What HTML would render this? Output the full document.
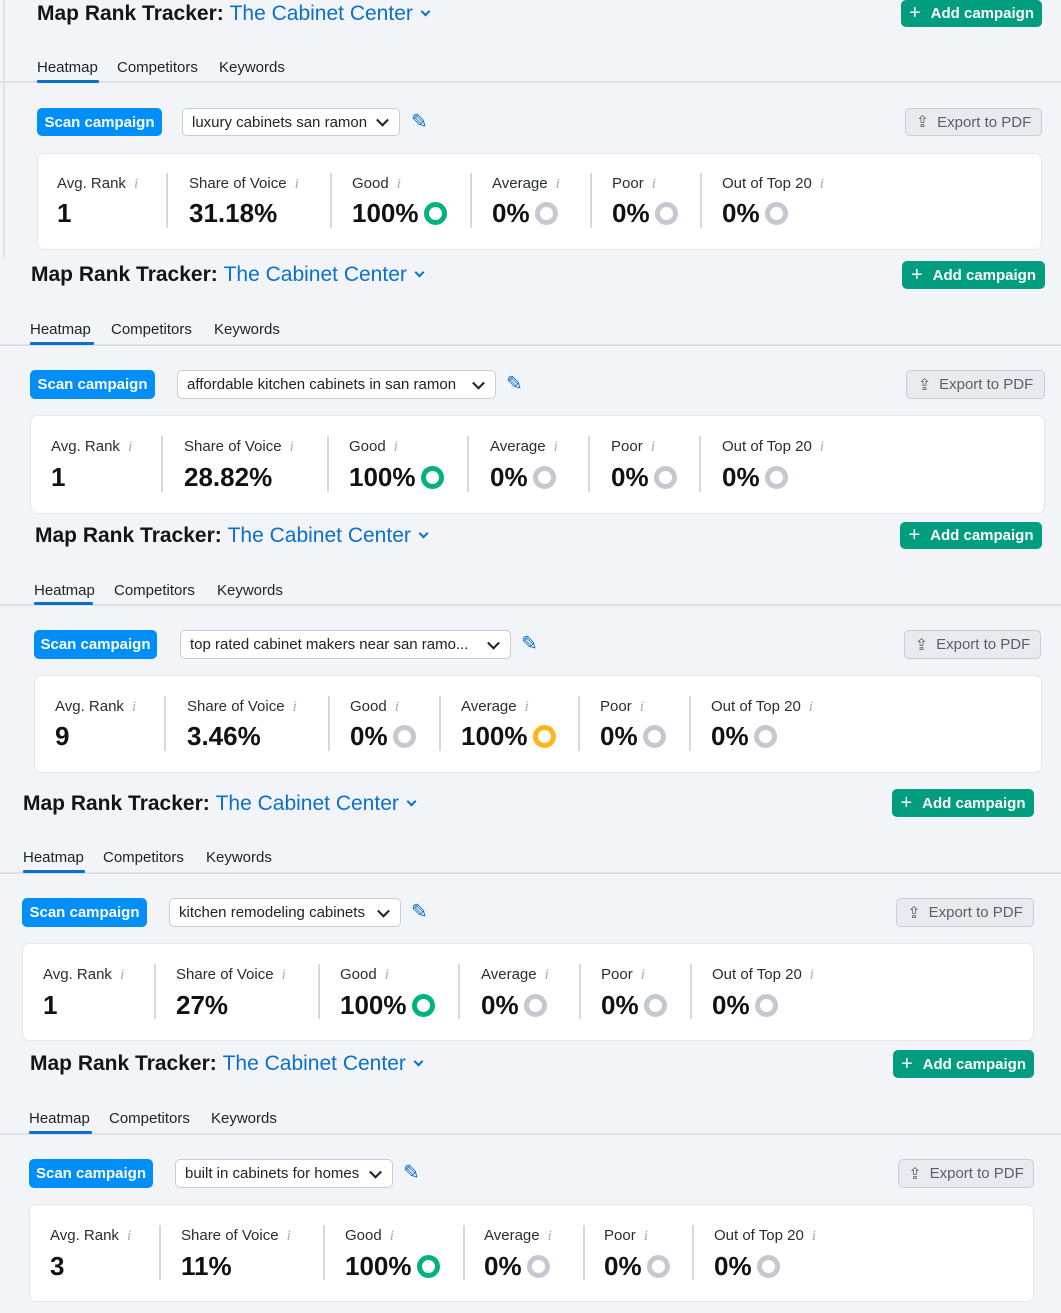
<!DOCTYPE html>
<html><head><meta charset="utf-8"><style>
*{margin:0;padding:0;box-sizing:border-box}
body{width:1061px;height:1313px;background:#f3f4f8;position:relative;overflow:hidden;font-family:"Liberation Sans",sans-serif;color:#171a22}
.a{position:absolute;white-space:nowrap}
.ti{font-size:21px;line-height:26px;font-weight:bold;color:#121418}
.ti span{color:#0a6fce;font-weight:normal}
.ti i{display:inline-block;width:7px;height:7px;border-right:2px solid #0a6fce;border-bottom:2px solid #0a6fce;transform:rotate(45deg);margin-left:9px;position:relative;top:-5px}
.add{background:#009d7f;color:#fff;border-radius:5px;font-size:15px;font-weight:bold;display:flex;align-items:center;justify-content:center}
.add b{font-weight:normal;font-size:20px;margin-right:10px}
.tab{font-size:15px;line-height:20px;color:#1e2128;margin-top:1px}
.ul{height:3px;background:#0a6fce;border-radius:1px}
.dv{left:0;width:1061px;height:2px;background:#dfe1e8}
.scan{background:#008ff8;color:#fff;border-radius:5px;font-size:15px;font-weight:bold;display:flex;align-items:center;justify-content:center}
.dd{background:#fff;border:1px solid #c9ccd6;border-radius:5px;font-size:15px;display:flex;align-items:center;padding-left:9px;color:#222}
.dd::after{content:"";position:absolute;right:12px;top:50%;width:7px;height:7px;border-right:2px solid #222;border-bottom:2px solid #222;transform:translateY(-70%) rotate(45deg)}
.pen{color:#0a6fce;font-size:20px;line-height:20px}
.ex{background:#e9eaee;border:1px solid #c9ccd6;border-radius:5px;font-size:15px;color:#5b5f6b;display:flex;align-items:center;justify-content:center}
.ex b{font-weight:normal;margin-right:8px;font-size:16px}
.card{background:#fff;border-radius:7px;border:1px solid #e4e6ec}
.lb{font-size:15px;line-height:20px;color:#2a2d35}
.lb i{color:#a9acb5;font-family:"Liberation Serif",serif;margin-left:8px}
.v{font-size:26px;line-height:30px;font-weight:bold;display:flex;align-items:center;color:#111}
.r{width:23px;height:23px;border-radius:50%;border:5px solid #c5c8d0;margin-left:5px;display:inline-block}
.g{border-color:#00b37e}.y{border-color:#ffb51b}
.sp{width:2px;background:#d6d8de}
</style></head><body>
<div class="a" style="left:3px;top:0;width:2px;height:258px;background:#e2e3e8"></div>

<!-- P1 -->
<div class="a ti" style="left:37px;top:1px">Map Rank Tracker: <span>The Cabinet Center</span><i></i></div>
<div class="a add" style="left:901px;top:0;width:141px;height:27px"><b>+</b>Add campaign</div>
<div class="a tab" style="left:37px;top:57px">Heatmap</div><div class="a tab" style="left:117px;top:57px">Competitors</div><div class="a tab" style="left:219px;top:57px">Keywords</div>
<div class="a dv" style="top:81px"></div><div class="a ul" style="left:37px;top:80px;width:62px"></div>
<div class="a scan" style="left:37px;top:108px;width:125px;height:28px">Scan campaign</div>
<div class="a dd" style="left:182px;top:108px;width:218px;height:28px">luxury cabinets san ramon</div>
<div class="a pen" style="left:411px;top:112px">✎</div>
<div class="a ex" style="left:905px;top:108px;width:137px;height:28px"><b>⇪</b>Export to PDF</div>
<div class="a card" style="left:37px;top:153px;width:1005px;height:97px"></div>
<div class="a lb" style="left:57px;top:174px">Avg. Rank<i>i</i></div>
<div class="a lb" style="left:189px;top:174px">Share of Voice<i>i</i></div>
<div class="a lb" style="left:352px;top:174px">Good<i>i</i></div>
<div class="a lb" style="left:492px;top:174px">Average<i>i</i></div>
<div class="a lb" style="left:612px;top:174px">Poor<i>i</i></div>
<div class="a lb" style="left:722px;top:174px">Out of Top 20<i>i</i></div>
<div class="a v" style="left:57px;top:198px">1</div>
<div class="a v" style="left:189px;top:198px">31.18%</div>
<div class="a v" style="left:352px;top:198px">100%<span class="r g"></span></div>
<div class="a v" style="left:492px;top:198px">0%<span class="r"></span></div>
<div class="a v" style="left:612px;top:198px">0%<span class="r"></span></div>
<div class="a v" style="left:722px;top:198px">0%<span class="r"></span></div>
<div class="a sp" style="left:166px;top:173px;height:55px"></div><div class="a sp" style="left:330px;top:173px;height:55px"></div><div class="a sp" style="left:470px;top:173px;height:55px"></div><div class="a sp" style="left:590px;top:173px;height:55px"></div><div class="a sp" style="left:700px;top:173px;height:55px"></div>

<!-- P2 -->
<div class="a ti" style="left:31px;top:262px">Map Rank Tracker: <span>The Cabinet Center</span><i></i></div>
<div class="a add" style="left:902px;top:261px;width:143px;height:28px"><b>+</b>Add campaign</div>
<div class="a tab" style="left:30px;top:319px">Heatmap</div><div class="a tab" style="left:111px;top:319px">Competitors</div><div class="a tab" style="left:214px;top:319px">Keywords</div>
<div class="a dv" style="top:344px"></div><div class="a ul" style="left:30px;top:342px;width:64px"></div>
<div class="a scan" style="left:30px;top:370px;width:125px;height:29px">Scan campaign</div>
<div class="a dd" style="left:177px;top:370px;width:319px;height:29px">affordable kitchen cabinets in san ramon</div>
<div class="a pen" style="left:506px;top:374px">✎</div>
<div class="a ex" style="left:906px;top:370px;width:139px;height:29px"><b>⇪</b>Export to PDF</div>
<div class="a card" style="left:30px;top:415px;width:1015px;height:99px"></div>
<div class="a lb" style="left:51px;top:437px">Avg. Rank<i>i</i></div>
<div class="a lb" style="left:184px;top:437px">Share of Voice<i>i</i></div>
<div class="a lb" style="left:349px;top:437px">Good<i>i</i></div>
<div class="a lb" style="left:490px;top:437px">Average<i>i</i></div>
<div class="a lb" style="left:611px;top:437px">Poor<i>i</i></div>
<div class="a lb" style="left:722px;top:437px">Out of Top 20<i>i</i></div>
<div class="a v" style="left:51px;top:462px">1</div>
<div class="a v" style="left:184px;top:462px">28.82%</div>
<div class="a v" style="left:349px;top:462px">100%<span class="r g"></span></div>
<div class="a v" style="left:490px;top:462px">0%<span class="r"></span></div>
<div class="a v" style="left:611px;top:462px">0%<span class="r"></span></div>
<div class="a v" style="left:722px;top:462px">0%<span class="r"></span></div>
<div class="a sp" style="left:161px;top:436px;height:56px"></div><div class="a sp" style="left:327px;top:436px;height:56px"></div><div class="a sp" style="left:467px;top:436px;height:56px"></div><div class="a sp" style="left:588px;top:436px;height:56px"></div><div class="a sp" style="left:699px;top:436px;height:56px"></div>

<!-- P3 -->
<div class="a ti" style="left:35px;top:523px">Map Rank Tracker: <span>The Cabinet Center</span><i></i></div>
<div class="a add" style="left:900px;top:522px;width:142px;height:27px"><b>+</b>Add campaign</div>
<div class="a tab" style="left:34px;top:580px">Heatmap</div><div class="a tab" style="left:114px;top:580px">Competitors</div><div class="a tab" style="left:217px;top:580px">Keywords</div>
<div class="a dv" style="top:604px"></div><div class="a ul" style="left:34px;top:602px;width:59px"></div>
<div class="a scan" style="left:34px;top:630px;width:123px;height:29px">Scan campaign</div>
<div class="a dd" style="left:180px;top:630px;width:331px;height:29px">top rated cabinet makers near san ramo...</div>
<div class="a pen" style="left:521px;top:634px">✎</div>
<div class="a ex" style="left:904px;top:630px;width:137px;height:29px"><b>⇪</b>Export to PDF</div>
<div class="a card" style="left:34px;top:675px;width:1008px;height:98px"></div>
<div class="a lb" style="left:55px;top:697px">Avg. Rank<i>i</i></div>
<div class="a lb" style="left:187px;top:697px">Share of Voice<i>i</i></div>
<div class="a lb" style="left:350px;top:697px">Good<i>i</i></div>
<div class="a lb" style="left:461px;top:697px">Average<i>i</i></div>
<div class="a lb" style="left:600px;top:697px">Poor<i>i</i></div>
<div class="a lb" style="left:711px;top:697px">Out of Top 20<i>i</i></div>
<div class="a v" style="left:55px;top:721px">9</div>
<div class="a v" style="left:187px;top:721px">3.46%</div>
<div class="a v" style="left:350px;top:721px">0%<span class="r"></span></div>
<div class="a v" style="left:461px;top:721px">100%<span class="r y"></span></div>
<div class="a v" style="left:600px;top:721px">0%<span class="r"></span></div>
<div class="a v" style="left:711px;top:721px">0%<span class="r"></span></div>
<div class="a sp" style="left:164px;top:696px;height:55px"></div><div class="a sp" style="left:328px;top:696px;height:55px"></div><div class="a sp" style="left:439px;top:696px;height:55px"></div><div class="a sp" style="left:578px;top:696px;height:55px"></div><div class="a sp" style="left:689px;top:696px;height:55px"></div>

<!-- P4 -->
<div class="a ti" style="left:23px;top:791px">Map Rank Tracker: <span>The Cabinet Center</span><i></i></div>
<div class="a add" style="left:892px;top:789px;width:142px;height:28px"><b>+</b>Add campaign</div>
<div class="a tab" style="left:23px;top:847px">Heatmap</div><div class="a tab" style="left:103px;top:847px">Competitors</div><div class="a tab" style="left:206px;top:847px">Keywords</div>
<div class="a dv" style="top:872px"></div><div class="a ul" style="left:23px;top:870px;width:62px"></div>
<div class="a scan" style="left:22px;top:898px;width:125px;height:29px">Scan campaign</div>
<div class="a dd" style="left:169px;top:898px;width:232px;height:29px">kitchen remodeling cabinets</div>
<div class="a pen" style="left:411px;top:902px">✎</div>
<div class="a ex" style="left:896px;top:898px;width:138px;height:29px"><b>⇪</b>Export to PDF</div>
<div class="a card" style="left:22px;top:943px;width:1012px;height:98px"></div>
<div class="a lb" style="left:43px;top:965px">Avg. Rank<i>i</i></div>
<div class="a lb" style="left:176px;top:965px">Share of Voice<i>i</i></div>
<div class="a lb" style="left:340px;top:965px">Good<i>i</i></div>
<div class="a lb" style="left:481px;top:965px">Average<i>i</i></div>
<div class="a lb" style="left:601px;top:965px">Poor<i>i</i></div>
<div class="a lb" style="left:712px;top:965px">Out of Top 20<i>i</i></div>
<div class="a v" style="left:43px;top:990px">1</div>
<div class="a v" style="left:176px;top:990px">27%</div>
<div class="a v" style="left:340px;top:990px">100%<span class="r g"></span></div>
<div class="a v" style="left:481px;top:990px">0%<span class="r"></span></div>
<div class="a v" style="left:601px;top:990px">0%<span class="r"></span></div>
<div class="a v" style="left:712px;top:990px">0%<span class="r"></span></div>
<div class="a sp" style="left:154px;top:964px;height:55px"></div><div class="a sp" style="left:318px;top:964px;height:55px"></div><div class="a sp" style="left:458px;top:964px;height:55px"></div><div class="a sp" style="left:579px;top:964px;height:55px"></div><div class="a sp" style="left:690px;top:964px;height:55px"></div>

<!-- P5 -->
<div class="a ti" style="left:30px;top:1051px">Map Rank Tracker: <span>The Cabinet Center</span><i></i></div>
<div class="a add" style="left:893px;top:1050px;width:141px;height:28px"><b>+</b>Add campaign</div>
<div class="a tab" style="left:29px;top:1108px">Heatmap</div><div class="a tab" style="left:109px;top:1108px">Competitors</div><div class="a tab" style="left:211px;top:1108px">Keywords</div>
<div class="a dv" style="top:1133px"></div><div class="a ul" style="left:29px;top:1131px;width:63px"></div>
<div class="a scan" style="left:29px;top:1159px;width:124px;height:29px">Scan campaign</div>
<div class="a dd" style="left:175px;top:1159px;width:218px;height:29px">built in cabinets for homes</div>
<div class="a pen" style="left:403px;top:1163px">✎</div>
<div class="a ex" style="left:898px;top:1159px;width:136px;height:29px"><b>⇪</b>Export to PDF</div>
<div class="a card" style="left:29px;top:1204px;width:1005px;height:98px"></div>
<div class="a lb" style="left:50px;top:1226px">Avg. Rank<i>i</i></div>
<div class="a lb" style="left:181px;top:1226px">Share of Voice<i>i</i></div>
<div class="a lb" style="left:345px;top:1226px">Good<i>i</i></div>
<div class="a lb" style="left:484px;top:1226px">Average<i>i</i></div>
<div class="a lb" style="left:604px;top:1226px">Poor<i>i</i></div>
<div class="a lb" style="left:714px;top:1226px">Out of Top 20<i>i</i></div>
<div class="a v" style="left:50px;top:1251px">3</div>
<div class="a v" style="left:181px;top:1251px">11%</div>
<div class="a v" style="left:345px;top:1251px">100%<span class="r g"></span></div>
<div class="a v" style="left:484px;top:1251px">0%<span class="r"></span></div>
<div class="a v" style="left:604px;top:1251px">0%<span class="r"></span></div>
<div class="a v" style="left:714px;top:1251px">0%<span class="r"></span></div>
<div class="a sp" style="left:159px;top:1225px;height:55px"></div><div class="a sp" style="left:323px;top:1225px;height:55px"></div><div class="a sp" style="left:463px;top:1225px;height:55px"></div><div class="a sp" style="left:583px;top:1225px;height:55px"></div><div class="a sp" style="left:692px;top:1225px;height:55px"></div>
</body></html>
